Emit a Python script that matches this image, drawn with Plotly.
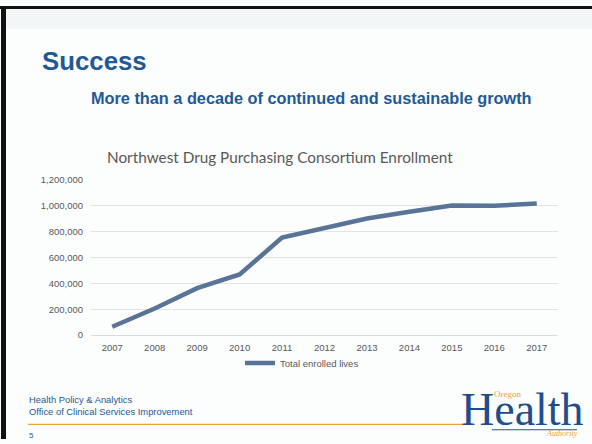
import plotly.graph_objects as go

years = ["2007", "2008", "2009", "2010", "2011", "2012", "2013", "2014", "2015", "2016", "2017"]
enrolled = [65000, 205000, 362000, 468000, 752000, 828000, 900000, 952000, 1000000, 998000, 1015000]
series_name = "Total enrolled lives"
y_ticks = [0, 200000, 400000, 600000, 800000, 1000000, 1200000]
y_tick_labels = ["0", "200,000", "400,000", "600,000", "800,000", "1,000,000", "1,200,000"]

W, H = 592, 444
def px(x):
    return x / W
def py(y):
    return 1 - y / H

fig = go.Figure()
fig.add_trace(go.Scatter(
    x=years, y=enrolled, mode="lines", name=series_name,
    line=dict(color="#5a7497", width=4.5),
))

blue = "#1f5a96"
orange = "#e9a33c"
tickfont = dict(family="Liberation Sans, Arial", size=9.5, color="#595959")

fig.update_layout(
    width=W, height=H,
    margin=dict(l=0, r=0, t=0, b=0),
    paper_bgcolor="#fcfdfd",
    plot_bgcolor="rgba(0,0,0,0)",
    showlegend=True,
    legend=dict(orientation="h", x=px(302), y=py(366), xanchor="center", yanchor="middle",
                font=tickfont, bgcolor="rgba(0,0,0,0)"),
    xaxis=dict(domain=[px(91), px(558)], type="category", range=[-0.5, 10.5], showgrid=False,
               zeroline=False, showline=False, ticks="", ticklabelstandoff=5, tickfont=tickfont),
    yaxis=dict(domain=[py(337.5), py(178)], range=[0, 1200000], tickvals=y_ticks, ticktext=y_tick_labels,
               showgrid=True, gridcolor="#e3e3e3", gridwidth=1, zeroline=True, zerolinecolor="#dcdcdc",
               zerolinewidth=1, showline=False, ticks="", ticklabelstandoff=7, tickfont=tickfont),
)

shapes = [
    dict(type="rect", xref="paper", yref="paper", x0=px(6), x1=1, y0=py(23.5), y1=py(3.2),
         fillcolor="#f3f6f6", line=dict(width=0), layer="below"),
    dict(type="rect", xref="paper", yref="paper", x0=0, x1=1, y0=py(3.2), y1=1,
         fillcolor="#111111", line=dict(width=0)),
    dict(type="rect", xref="paper", yref="paper", x0=px(1), x1=px(6), y0=0, y1=1,
         fillcolor="#111111", line=dict(width=0)),
    dict(type="line", xref="paper", yref="paper", x0=px(28), x1=px(463), y0=py(429), y1=py(429),
         line=dict(color=orange, width=1.3)),
    dict(type="line", xref="paper", yref="paper", x0=px(492), x1=px(577), y0=py(434.5), y1=py(434.5),
         line=dict(color=blue, width=1)),
]
fig.update_layout(shapes=shapes)

ann = [
    dict(text="<b>Success</b>", x=px(40), y=py(56), xanchor="left", yanchor="middle",
         font=dict(family="Liberation Sans, Arial", size=25.8, color=blue)),
    dict(text="<b>More than a decade of continued and sustainable growth</b>", x=px(311.5), y=py(94),
         xanchor="center", yanchor="middle",
         font=dict(family="Liberation Sans, Arial", size=16.3, color=blue)),
    dict(text="Northwest Drug Purchasing Consortium Enrollment", x=px(280), y=py(155),
         xanchor="center", yanchor="middle",
         font=dict(family="Lato, Open Sans", size=15.3, color="#595959")),
    dict(text="Health Policy & Analytics", x=px(27), y=py(404), xanchor="left", yanchor="middle",
         font=dict(family="Liberation Sans, Arial", size=9.4, color=blue)),
    dict(text="Office of Clinical Services Improvement", x=px(27), y=py(416), xanchor="left", yanchor="middle",
         font=dict(family="Liberation Sans, Arial", size=9.4, color=blue)),
    dict(text="5", x=px(27), y=py(440), xanchor="left", yanchor="middle",
         font=dict(family="Liberation Sans, Arial", size=8, color=blue)),
    dict(text="Health", x=px(522), y=py(414), xanchor="center", yanchor="middle",
         font=dict(family="Liberation Serif, Times New Roman", size=46, color="#1f4e8c")),
    dict(text="Oregon", x=px(507), y=py(398), xanchor="center", yanchor="middle",
         font=dict(family="Liberation Serif", size=9, color=orange)),
    dict(text="<i>Authority</i>", x=px(562), y=py(438.5), xanchor="center", yanchor="middle",
         font=dict(family="Liberation Serif", size=8, color=orange)),
]
for a in ann:
    a.update(xref="paper", yref="paper", showarrow=False)
fig.update_layout(annotations=ann)

fig.write_html(
    "out.html",
    config={"displayModeBar": False},
    post_script=("document.documentElement.style.margin='0px';"
                 "document.body.style.margin='0px';"
                 "document.body.style.overflow='hidden';"
                 "document.documentElement.style.overflow='hidden';"),
)
